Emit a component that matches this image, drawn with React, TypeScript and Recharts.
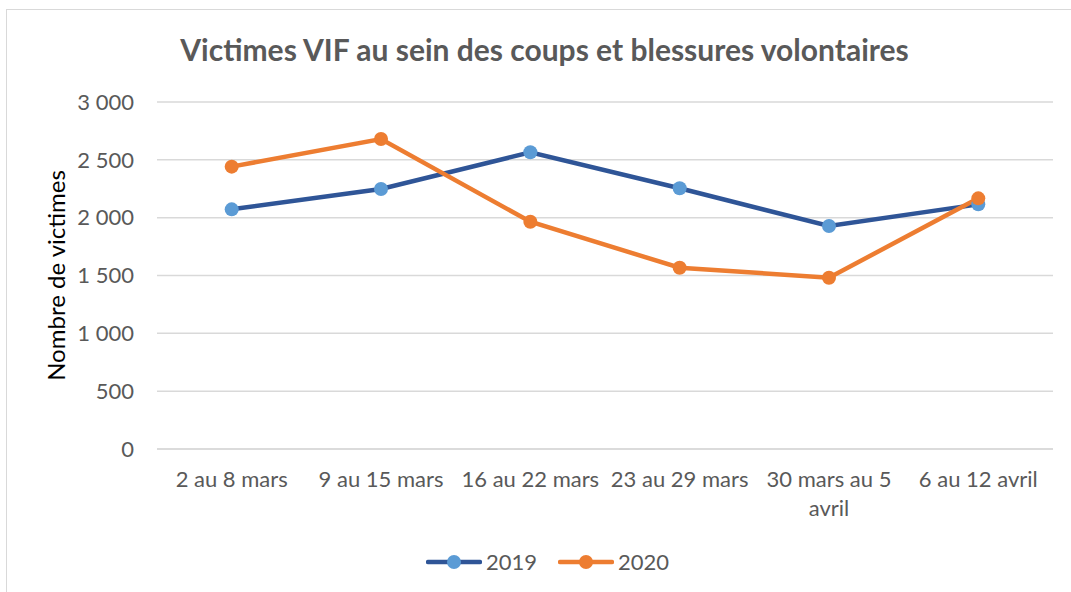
import React from 'react';
import { LineChart, Line, XAxis, YAxis, CartesianGrid, Legend } from 'recharts';

// ── data ──────────────────────────────────────────────────────────────────────

const weeks = [
  '2 au 8 mars',
  '9 au 15 mars',
  '16 au 22 mars',
  '23 au 29 mars',
  '30 mars au 5 avril',
  '6 au 12 avril',
];
// how each category label breaks on the axis
const weekLines: Record<string, string[]> = {
  '30 mars au 5 avril': ['30 mars au 5', 'avril'],
};
const victims2019 = [2072, 2248, 2565, 2254, 1928, 2115];
const victims2020 = [2441, 2680, 1965, 1567, 1481, 2167];
const yTicks = [0, 500, 1000, 1500, 2000, 2500, 3000];

const data = weeks.map((week, i) => ({
  week,
  y2019: victims2019[i],
  y2020: victims2020[i],
}));

// ── style ─────────────────────────────────────────────────────────────────────

const FONT = 'Lato, "Open Sans", sans-serif';
const TEXT_COLOR = '#595959';
const GRID_COLOR = '#d9d9d9';
const LINE_2019 = '#2f5597';
const DOT_2019 = '#5b9bd5';
const LINE_2020 = '#ed7d31';

const fmtThousands = (v: number) =>
  v >= 1000 ? `${Math.floor(v / 1000)} ${String(v % 1000).padStart(3, '0')}` : `${v}`;

const XTick = (props: any) => {
  const { x, y, payload } = props;
  const lines = weekLines[payload.value] ?? [payload.value];
  return (
    <text x={x} y={y + 38} textAnchor="middle" fill={TEXT_COLOR} fontSize={22} fontFamily={FONT}>
      {lines.map((l, i) => (
        <tspan key={i} x={x} dy={i === 0 ? 0 : 29}>{l}</tspan>
      ))}
    </text>
  );
};

const LegendContent = () => {
  const items = [
    { label: '2019', line: LINE_2019, dot: DOT_2019 },
    { label: '2020', line: LINE_2020, dot: LINE_2020 },
  ];
  return (
    <div style={{ display: 'flex', justifyContent: 'center', gap: 21, fontFamily: FONT, fontSize: 22, color: TEXT_COLOR }}>
      {items.map(it => (
        <div key={it.label} style={{ display: 'flex', alignItems: 'center', gap: 4 }}>
          <svg width={56} height={16}>
            <line x1={2} y1={8} x2={54} y2={8} stroke={it.line} strokeWidth={4.5} strokeLinecap="round" />
            <circle cx={28} cy={8} r={7} fill={it.dot} />
          </svg>
          <span>{it.label}</span>
        </div>
      ))}
    </div>
  );
};

// ── component ─────────────────────────────────────────────────────────────────

export default function App() {
  return (
    <div style={{ position: 'absolute', left: 0, top: 0, width: 1071, height: 592, overflow: 'hidden', background: '#fff' }}>
      {/* chart frame */}
      <div style={{
        position: 'absolute', left: 6, top: 9, width: 1100, height: 620,
        border: `1.5px solid ${GRID_COLOR}`,
      }} />

      {/* title */}
      <div style={{
        position: 'absolute', left: 19, top: 34, width: 1051, height: 30, lineHeight: '30px',
        textAlign: 'center', fontFamily: FONT, fontWeight: 700, fontSize: 30, color: TEXT_COLOR,
      }}>
        Victimes VIF au sein des coups et blessures volontaires
      </div>

      <div style={{ position: 'absolute', left: 0, top: 0 }}>
        <LineChart
          width={1071}
          height={592}
          data={data}
          margin={{ top: 102, right: 18, bottom: 83, left: 0 }}
        >
          <CartesianGrid vertical={false} stroke={GRID_COLOR} strokeWidth={1.5} />
          <XAxis
            dataKey="week"
            height={60}
            padding={{ left: 74.7, right: 74.7 }}
            axisLine={{ stroke: GRID_COLOR, strokeWidth: 1.5 }}
            tickLine={false}
            tickSize={0}
            tickMargin={0}
            interval={0}
            tick={<XTick />}
          />
          <YAxis
            width={157}
            domain={[0, 3000]}
            ticks={yTicks}
            tickFormatter={fmtThousands}
            axisLine={false}
            tickLine={false}
            tickSize={0}
            tickMargin={23}
            tick={{ fill: TEXT_COLOR, fontSize: 22, fontFamily: FONT }}
            label={{
              value: 'Nombre de victimes',
              angle: -90,
              position: 'insideLeft',
              offset: 56,
              style: { textAnchor: 'middle', fill: '#000', fontSize: 24, fontFamily: FONT },
            }}
          />
          <Legend
            verticalAlign="middle"
            align="center"
            layout="horizontal"
            content={<LegendContent />}
            wrapperStyle={{ top: 548, left: 12, width: 1071 }}
          />
          <Line
            type="linear"
            dataKey="y2019"
            name="2019"
            stroke={LINE_2019}
            strokeWidth={4.5}
            dot={{ r: 7, fill: DOT_2019, stroke: DOT_2019, strokeWidth: 0 }}
            activeDot={false}
            isAnimationActive={false}
          />
          <Line
            type="linear"
            dataKey="y2020"
            name="2020"
            stroke={LINE_2020}
            strokeWidth={4.5}
            dot={{ r: 7, fill: LINE_2020, stroke: LINE_2020, strokeWidth: 0 }}
            activeDot={false}
            isAnimationActive={false}
          />
        </LineChart>
      </div>
    </div>
  );
}
